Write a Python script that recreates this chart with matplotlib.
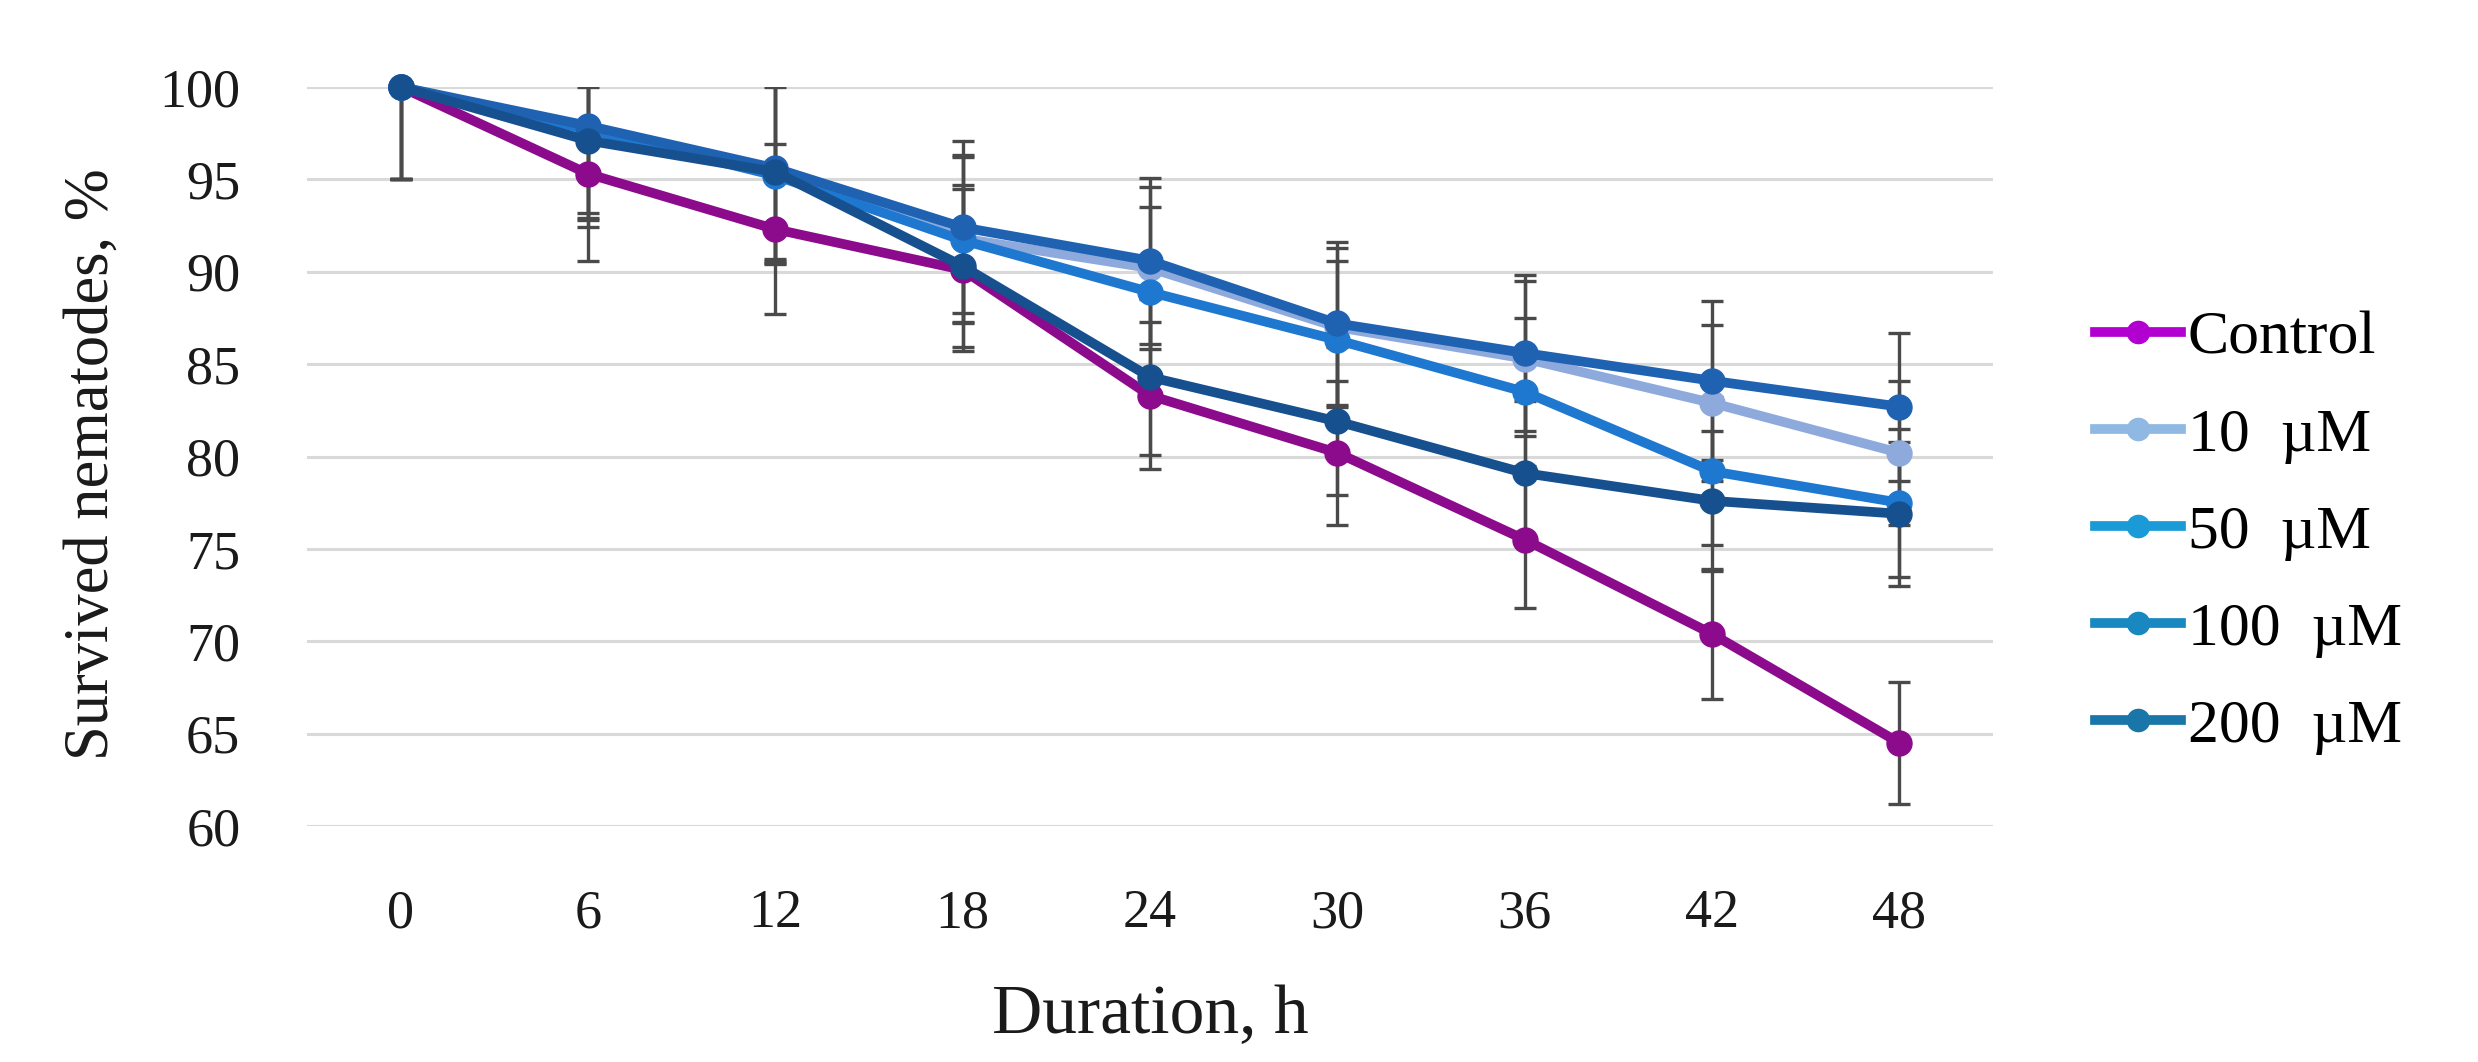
import matplotlib
matplotlib.use("Agg")
import matplotlib.pyplot as plt
from matplotlib.lines import Line2D
import numpy as np

# data
hours = [0, 6, 12, 18, 24, 30, 36, 42, 48]
labels = ["Control", "10  µM", "50  µM", "100  µM", "200  µM"]

control = [100, 95.3, 92.3, 90.1, 83.3, 80.2, 75.5, 70.4, 64.5]
um10 = [100, 97.5, 95.5, 91.8, 90.2, 87.0, 85.3, 82.9, 80.2]
um50 = [100, 97.7, 95.2, 91.7, 88.9, 86.3, 83.5, 79.2, 77.5]
um100 = [100, 97.9, 95.6, 92.4, 90.6, 87.2, 85.6, 84.1, 82.7]
um200 = [100, 97.1, 95.4, 90.3, 84.3, 81.9, 79.1, 77.6, 76.9]

err_control = [5.0, 4.7, 4.6, 4.4, 4.0, 3.9, 3.7, 3.5, 3.3]
err_10 = [5.0, 4.7, 4.8, 4.5, 4.4, 4.3, 4.2, 4.2, 3.9]
err_50 = [5.0, 4.8, 4.8, 4.5, 4.6, 4.3, 4.0, 4.0, 4.0]
err_100 = [5.0, 4.7, 5.0, 4.65, 4.5, 4.4, 4.2, 4.3, 4.0]
err_200 = [5.0, 4.7, 4.9, 4.4, 4.2, 4.0, 3.9, 3.8, 3.9]

series = [control, um10, um50, um100, um200]
errors = [err_control, err_10, err_50, err_100, err_200]
line_colors = ["#8c0a8c", "#8eaadd", "#1f78d0", "#1f62b2", "#17508f"]
legend_colors = ["#b200d0", "#8fb9e3", "#1a9ad6", "#1a88c0", "#1a75a8"]

plt.rcParams["font.family"] = ["Liberation Serif", "DejaVu Serif"]

fig = plt.figure(figsize=(24.78, 10.62), dpi=100)
ax = fig.add_axes([0.1239, 0.2222, 0.6804, 0.6959])

for vals, errs in zip(series, errors):
    ax.errorbar(hours, vals, yerr=errs, fmt="none", ecolor="#4a4a4a",
                elinewidth=2.4, capsize=8, capthick=2.4, zorder=1.5)
for vals, col in zip(series, line_colors):
    ax.plot(hours, vals, color=col, lw=7, marker="o", ms=18,
            zorder=3, clip_on=False)

ax.set_xlim(-3, 51)
ax.set_ylim(60, 100)
ax.set_xticks(hours)
ax.set_yticks(np.arange(60, 101, 5))
ax.grid(axis="y", color="#d9d9d9", lw=2.2, zorder=0)
ax.set_axisbelow(True)
for s in ax.spines.values():
    s.set_visible(False)
ax.tick_params(axis="both", length=0, labelsize=39, colors="#1a1a1a")
ax.tick_params(axis="y", pad=48)
ax.tick_params(axis="x", pad=45)

ax.set_ylabel("Survived nematodes, %", fontsize=45, color="#1a1a1a")
ax.yaxis.set_label_coords(-0.11, 0.49)
ax.set_xlabel("Duration, h", fontsize=50, color="#1a1a1a")
ax.xaxis.set_label_coords(0.5, -0.215)

handles = [Line2D([0], [0], color=c, lw=7, marker="o", ms=16) for c in legend_colors]
fig.legend(handles, labels, loc="center left", bbox_to_anchor=(0.8454, 0.4985),
           frameon=False, fontsize=44.5, handlelength=1.4, handletextpad=0.1,
           labelspacing=0.66, borderpad=0, borderaxespad=0)

fig.savefig("out.png", dpi=100)
